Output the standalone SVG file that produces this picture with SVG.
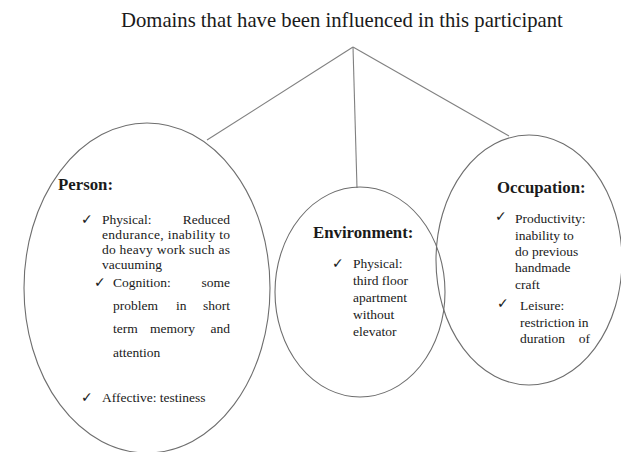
<svg xmlns="http://www.w3.org/2000/svg" width="621" height="452" viewBox="0 0 621 452">
<style>
.t{font-family:"Liberation Serif","Times New Roman",serif;fill:#1a1a1a;font-size:13.5px}
.h{font-family:"Liberation Serif","Times New Roman",serif;fill:#1a1a1a;font-weight:bold;font-size:16.8px}
.ck{font-family:"DejaVu Sans",sans-serif;fill:#1a1a1a;font-size:14px}
.e{fill:none;stroke:#6e6e6e;stroke-width:1.1}
.c{stroke:#808080;stroke-width:1.1;fill:none}
</style>
<rect width="621" height="452" fill="#ffffff"/>
<text x="121" y="27" font-family="Liberation Serif, Times New Roman, serif" font-size="20.7" fill="#1a1a1a">Domains that have been influenced in this participant</text>
<g id="connectors">
<line class="c" x1="353" y1="47" x2="207" y2="140"/>
<line class="c" x1="353" y1="47" x2="357" y2="188"/>
<line class="c" x1="353" y1="47" x2="509" y2="136"/>
</g>
<g id="person">
<ellipse class="e" cx="147" cy="288" rx="123" ry="165"/>
<text class="h" x="58" y="190">Person:</text>
<text class="ck" x="81" y="224">✓</text>
<text class="t" x="102" y="224">Physical:</text>
<text class="t" x="230" y="224" text-anchor="end">Reduced</text>
<text class="t" x="102" y="239" textLength="128" lengthAdjust="spacing">endurance, inability to</text>
<text class="t" x="102" y="254" textLength="128" lengthAdjust="spacing">do heavy work such as</text>
<text class="t" x="102" y="269">vacuuming</text>
<text class="ck" x="94" y="287">✓</text>
<text class="t" x="113" y="287">Cognition:</text>
<text class="t" x="230" y="287" text-anchor="end">some</text>
<text class="t" x="113" y="310">problem</text>
<text class="t" x="176" y="310">in</text>
<text class="t" x="230" y="310" text-anchor="end">short</text>
<text class="t" x="113" y="333">term</text>
<text class="t" x="150" y="333">memory</text>
<text class="t" x="230" y="333" text-anchor="end">and</text>
<text class="t" x="113" y="357">attention</text>
<text class="ck" x="81" y="402">✓</text>
<text class="t" x="102" y="402">Affective: testiness</text>
</g>
<g id="environment">
<ellipse class="e" cx="360" cy="292" rx="85" ry="105"/>
<text class="h" x="313" y="238">Environment:</text>
<text class="ck" x="332" y="268">✓</text>
<text class="t" x="353" y="268">Physical:</text>
<text class="t" x="353" y="285">third floor</text>
<text class="t" x="353" y="302">apartment</text>
<text class="t" x="353" y="319">without</text>
<text class="t" x="353" y="336">elevator</text>
</g>
<g id="occupation">
<ellipse class="e" cx="529" cy="260" rx="93" ry="125"/>
<text class="h" x="497" y="193" font-size="17.2">Occupation:</text>
<text class="ck" x="495" y="221">✓</text>
<text class="t" x="515" y="223">Productivity:</text>
<text class="t" x="515" y="240">inability to</text>
<text class="t" x="515" y="256">do previous</text>
<text class="t" x="515" y="272">handmade</text>
<text class="t" x="515" y="289">craft</text>
<text class="ck" x="497" y="308">✓</text>
<text class="t" x="520" y="310">Leisure:</text>
<text class="t" x="520" y="327">restriction in</text>
<text class="t" x="520" y="343">duration</text>
<text class="t" x="590" y="343" text-anchor="end">of</text>
</g>
</svg>
